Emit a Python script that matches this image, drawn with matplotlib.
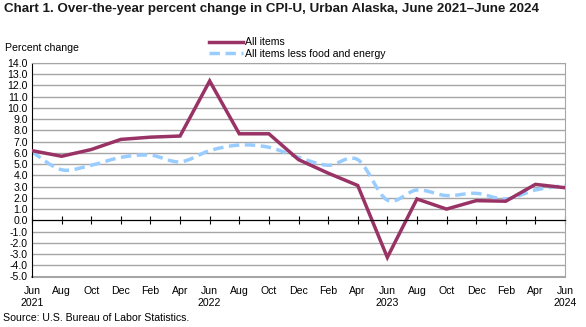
import numpy as np
import matplotlib
matplotlib.use('Agg')
import matplotlib.pyplot as plt
from matplotlib.path import Path
from matplotlib.patches import PathPatch

plt.rcParams['font.family'] = ['Liberation Sans', 'DejaVu Sans']

months = ['Jun', 'Aug', 'Oct', 'Dec', 'Feb', 'Apr'] * 3 + ['Jun']
years = {0: '2021', 6: '2022', 12: '2023', 18: '2024'}
all_items = [6.2, 5.7, 6.3, 7.2, 7.4, 7.5, 12.4, 7.7, 7.7, 5.4, 4.2, 3.1,
             -3.3, 1.9, 1.0, 1.75, 1.7, 3.2, 2.9]
core = [6.1, 4.5, 4.9, 5.6, 5.8, 5.2, 6.2, 6.7, 6.5, 5.6, 4.9, 5.4,
        1.8, 2.7, 2.2, 2.4, 1.9, 2.7, 3.1]

x = np.arange(len(months))
fs = 7.6


def smooth_path(xs, ys, t=1 / 6):
    # catmull-rom style bezier through the points (excel "smoothed line")
    verts = [(xs[0], ys[0])]
    codes = [Path.MOVETO]
    n = len(xs)
    for i in range(n - 1):
        p0 = (xs[max(i - 1, 0)], ys[max(i - 1, 0)])
        p1 = (xs[i], ys[i])
        p2 = (xs[i + 1], ys[i + 1])
        p3 = (xs[min(i + 2, n - 1)], ys[min(i + 2, n - 1)])
        c1 = (p1[0] + (p2[0] - p0[0]) * t, p1[1] + (p2[1] - p0[1]) * t)
        c2 = (p2[0] - (p3[0] - p1[0]) * t, p2[1] - (p3[1] - p1[1]) * t)
        verts += [c1, c2, p2]
        codes += [Path.CURVE4] * 3
    return Path(verts, codes)


fig = plt.figure(figsize=(5.86, 3.27), dpi=100)
ax = fig.add_axes([32 / 586, 1 - 276.5 / 327, 533 / 586, 213.5 / 327])

ax.set_xlim(0, 18)
ax.set_ylim(-5, 14)
ax.set_yticks(np.arange(-5, 15, 1))
ax.set_yticklabels(['%.1f' % v for v in np.arange(-5, 15, 1)])
ax.yaxis.grid(True, color='#a6a6a6', lw=1)
ax.set_axisbelow(True)
ax.tick_params(axis='y', length=0, pad=3, labelsize=fs)

for s in ['top', 'right']:
    ax.spines[s].set_color('#a6a6a6')
ax.spines['left'].set_color('black')
ax.spines['bottom'].set_position(('data', 0))
ax.spines['bottom'].set_color('black')
ax.spines['bottom'].set_zorder(4)
ax.axhline(-5, color='#a6a6a6', lw=1.5, clip_on=False)

ax.set_xticks(x)
ax.tick_params(axis='x', direction='inout', length=6, width=0.8,
               labelbottom=False, color='black')

for i, m in enumerate(months):
    lab = m + ('\n' + years[i] if i in years else '')
    ax.text(i, -0.045, lab, transform=ax.get_xaxis_transform(),
            ha='center', va='top', fontsize=fs, linespacing=1.2)

ax.plot(x, all_items, color='#993366', lw=2.5, zorder=3,
        solid_joinstyle='miter', label='All items')
patch = PathPatch(smooth_path(x, core), facecolor='none', edgecolor='#99ccff',
                  lw=2.5, linestyle=(0, (3, 1.6)), zorder=2)
ax.add_patch(patch)
ax.plot([], [], color='#99ccff', lw=2.5, linestyle=(0, (3, 1.6)),
        label='All items less food and energy')

ax.legend(loc='lower left', bbox_to_anchor=(209 / 586, 1 - 59 / 327),
          bbox_transform=fig.transFigure, frameon=False, fontsize=fs,
          handlelength=3.2, handletextpad=0.2, labelspacing=0.15,
          borderpad=0, borderaxespad=0)

fig.text(4 / 586, 1 - 9 / 327, 'Chart 1. Over-the-year percent change in CPI-U, Urban Alaska, June 2021\u2013June 2024',
         fontsize=9.6, fontweight='bold', va='center', ha='left', color='#1a1a1a')
fig.text(5 / 586, 1 - 48 / 327, 'Percent change', fontsize=fs, va='center', ha='left')
fig.text(3 / 586, 1 - 318 / 327, 'Source: U.S. Bureau of Labor Statistics.',
         fontsize=fs, va='center', ha='left')

fig.savefig('out.png', dpi=100)
